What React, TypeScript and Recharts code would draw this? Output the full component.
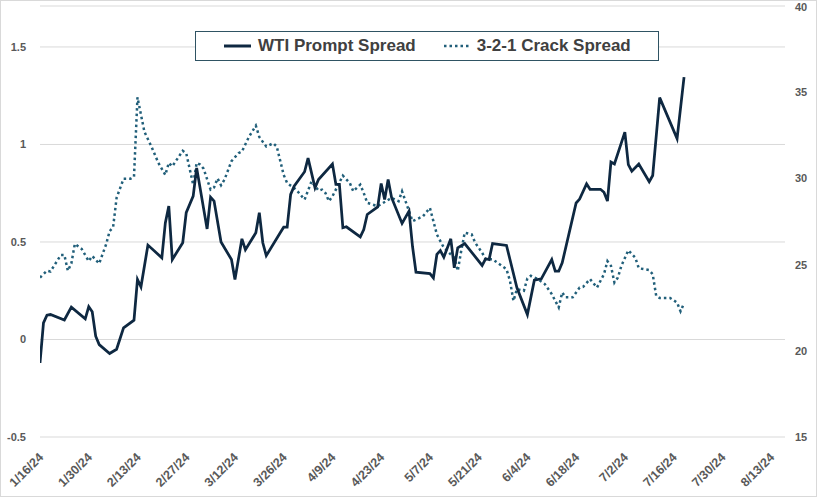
import { LineChart, Line, XAxis, YAxis, CartesianGrid, Legend } from "recharts";

// dates are M/D in 2024
const wtiDates = [
	"1/16", "1/17", "1/18", "1/19", "1/23", "1/25", "1/29", "1/30", "1/31", "2/1",
	"2/2", "2/5", "2/7", "2/9", "2/12", "2/13", "2/14", "2/16", "2/20", "2/21",
	"2/22", "2/23", "2/26", "2/27", "2/29", "3/1", "3/4", "3/5", "3/6", "3/8",
	"3/11", "3/12", "3/14", "3/15", "3/18", "3/19", "3/20", "3/21", "3/25", "3/26",
	"3/27", "3/28", "3/29", "4/1", "4/2", "4/4", "4/5", "4/9", "4/10", "4/11",
	"4/12", "4/13", "4/17", "4/18", "4/19", "4/22", "4/23", "4/24", "4/25", "4/26",
	"4/29", "5/1", "5/2", "5/3", "5/7", "5/8", "5/9", "5/10", "5/11", "5/13",
	"5/14", "5/15", "5/17", "5/22", "5/23", "5/24", "5/25", "5/29", "5/30", "6/1",
	"6/4", "6/6", "6/8", "6/11", "6/12", "6/13", "6/14", "6/18", "6/19", "6/21",
	"6/22", "6/25", "6/26", "6/27", "6/28", "6/29", "7/2", "7/3", "7/4", "7/6",
	"7/9", "7/10", "7/12", "7/17", "7/19",
];
const wtiValues = [
	-0.12, 0.085, 0.125, 0.128, 0.1, 0.166, 0.106, 0.168, 0.142, 0.017,
	-0.026, -0.072, -0.05, 0.06, 0.099, 0.308, 0.27, 0.484, 0.419, 0.598,
	0.684, 0.41, 0.496, 0.65, 0.735, 0.88, 0.567, 0.73, 0.71, 0.5,
	0.41, 0.308, 0.516, 0.46, 0.547, 0.65, 0.496, 0.43, 0.547, 0.576,
	0.576, 0.744, 0.786, 0.86, 0.93, 0.778, 0.82, 0.9, 0.795, 0.795,
	0.573, 0.578, 0.526, 0.564, 0.641, 0.68, 0.8, 0.718, 0.82, 0.727,
	0.595, 0.658, 0.478, 0.345, 0.338, 0.316, 0.436, 0.456, 0.422, 0.516,
	0.368, 0.47, 0.492, 0.38, 0.414, 0.41, 0.492, 0.482, 0.41, 0.265,
	0.128, 0.304, 0.311, 0.41, 0.35, 0.35, 0.393, 0.7, 0.72, 0.798,
	0.77, 0.77, 0.755, 0.71, 0.91, 0.9, 1.063, 0.897, 0.863, 0.9,
	0.809, 0.841, 1.24, 1.03, 1.345,
];

const crackDates = [
	"1/16", "1/18", "1/19", "1/22", "1/23", "1/24", "1/25", "1/26", "1/28", "1/30",
	"1/31", "2/2", "2/4", "2/5", "2/6", "2/7", "2/9", "2/11", "2/12", "2/13",
	"2/14", "2/15", "2/17", "2/19", "2/21", "2/22", "2/23", "2/26", "2/27", "2/29",
	"3/1", "3/2", "3/3", "3/5", "3/6", "3/7", "3/8", "3/9", "3/11", "3/13",
	"3/14", "3/16", "3/18", "3/19", "3/21", "3/23", "3/24", "3/26", "3/27", "3/29",
	"3/30", "4/1", "4/3", "4/5", "4/6", "4/7", "4/8", "4/9", "4/12", "4/14",
	"4/15", "4/17", "4/18", "4/19", "4/22", "4/26", "4/28", "4/29", "5/1", "5/2",
	"5/5", "5/7", "5/8", "5/9", "5/11", "5/14", "5/15", "5/16", "5/17", "5/19",
	"5/20", "5/22", "5/23", "5/25", "5/27", "5/29", "5/30", "5/31", "6/1", "6/3",
	"6/4", "6/5", "6/7", "6/9", "6/11", "6/12", "6/13", "6/14", "6/15", "6/17",
	"6/19", "6/20", "6/22", "6/24", "6/26", "6/27", "6/28", "6/29", "6/30", "7/1",
	"7/3", "7/5", "7/6", "7/9", "7/10", "7/11", "7/12", "7/15", "7/17", "7/18",
	"7/19",
];
const crackValues = [
	24.25, 24.64, 24.6, 25.56, 25.56, 24.64, 25.06, 26.2, 25.9, 25.2,
	25.5, 25.06, 26.18, 26.94, 27.17, 28.87, 29.98, 29.98, 30.1, 34.7,
	33.7, 32.7, 31.85, 30.9, 30.2, 30.9, 30.7, 31.6, 31.46, 29.64,
	30.9, 30.8, 30.56, 29.35, 29.48, 30.0, 29.6, 29.93, 31.0, 31.46,
	31.56, 32.4, 33.06, 32.4, 31.85, 32.04, 31.85, 30.2, 29.73, 29.44,
	29.25, 28.77, 29.83, 29.29, 29.35, 29.15, 28.68, 28.96, 30.16, 29.73,
	29.25, 29.64, 29.15, 28.58, 28.39, 28.87, 28.68, 29.25, 28.1, 27.52,
	27.8, 28.29, 27.52, 26.75, 25.98, 25.4, 24.64, 25.8, 26.85, 26.75,
	26.27, 25.69, 25.31, 25.31, 25.02, 24.73, 24.06, 22.9, 23.58, 23.48,
	24.2, 24.35, 24.16, 23.87, 23.29, 22.9, 22.52, 23.38, 23.1, 23.1,
	23.67, 23.71, 24.16, 23.67, 24.44, 25.2, 24.93, 23.96, 24.25, 24.93,
	25.83, 25.4, 24.79, 24.68, 24.44, 23.19, 23.06, 23.06, 22.8, 22.29,
	22.75,
];

const xTickLabels = [
	"1/16/24", "1/30/24", "2/13/24", "2/27/24", "3/12/24", "3/26/24", "4/9/24", "4/23/24",
	"5/7/24", "5/21/24", "6/4/24", "6/18/24", "7/2/24", "7/16/24", "7/30/24", "8/13/24",
];
const leftTicks = [-0.5, 0, 0.5, 1, 1.5];
const rightTicks = [15, 20, 25, 30, 35, 40];

const WTI_COLOR = "#0E2841";
const CRACK_COLOR = "#215F7A";
const TEXT_COLOR = "#595959";
const FONT = "'Liberation Sans Narrow', 'Arial Narrow', 'Liberation Sans', sans-serif";

const toTs = (s: string) => {
	const [m, d] = s.split("/").map(Number);
	return Date.UTC(2024, m - 1, d);
};

const wtiData = wtiDates.map((d, i) => ({ t: toTs(d), v: wtiValues[i] }));
const crackData = crackDates.map((d, i) => ({ t: toTs(d), v: crackValues[i] }));
const xTicks = xTickLabels.map(toTs);

const fmtDate = (ts: number) => {
	const dt = new Date(ts);
	return `${dt.getUTCMonth() + 1}/${dt.getUTCDate()}/24`;
};

const DateTick = ({ x, y, payload }: any) => (
	<g transform={`translate(${x + 1},${y + 10})`}>
		<text
			transform='rotate(-45)'
			textAnchor='end'
			dy='0.35em'
			fill={TEXT_COLOR}
			fontFamily={FONT}
			fontWeight='bold'
			fontSize={12.5}>
			{fmtDate(payload.value)}
		</text>
	</g>
);

const ChartLegend = () => (
	<div
		style={{
			position: "absolute",
			left: 194,
			top: 30,
			width: 464,
			height: 30,
			boxSizing: "border-box",
			border: "1px solid #2F5363",
			background: "#fff",
			display: "flex",
			alignItems: "center",
			fontFamily: FONT,
			fontWeight: "bold",
			fontSize: 17,
			color: "#404040",
		}}>
		<svg width={27} height={10} style={{ marginLeft: 28, marginRight: 7 }}>
			<line x1={0} y1={5} x2={27} y2={5} stroke={WTI_COLOR} strokeWidth={3} />
		</svg>
		<span>WTI Prompt Spread</span>
		<svg width={26} height={10} style={{ marginLeft: 28, marginRight: 7 }}>
			<line x1={0} y1={5} x2={26} y2={5} stroke={CRACK_COLOR} strokeWidth={2.5} strokeDasharray='2.5 3' />
		</svg>
		<span>3-2-1 Crack Spread</span>
	</div>
);

export default function App() {
	return (
		<div
			style={{
				position: "absolute",
				left: 0,
				top: 0,
				width: 817,
				height: 497,
				boxSizing: "border-box",
				border: "1px solid #d9d9d9",
				background: "#fff",
			}}>
			<LineChart
				width={815}
				height={495}
				margin={{ top: 5, right: 0, left: 0, bottom: 0 }}>
				<CartesianGrid yAxisId='left' vertical={false} stroke='#d9d9d9' />
				<XAxis
					dataKey='t'
					type='number'
					scale='time'
					domain={[toTs("1/16"), toTs("8/17")]}
					ticks={xTicks}
					tick={<DateTick />}
					tickLine={false}
					axisLine={false}
					height={59}
					interval={0}
					allowDataOverflow
				/>
				<YAxis
					yAxisId='left'
					domain={[-0.5, 1.71]}
					ticks={leftTicks}
					width={39}
					tickLine={false}
					axisLine={false}
					tickSize={0}
					tickMargin={14}
					tick={{ fill: TEXT_COLOR, fontSize: 11, fontWeight: "bold", fontFamily: FONT }}
				/>
				<YAxis
					yAxisId='right'
					orientation='right'
					domain={[15, 40]}
					ticks={rightTicks}
					width={31}
					tickLine={false}
					axisLine={false}
					tickSize={0}
					tickMargin={10}
					tick={{ fill: TEXT_COLOR, fontSize: 11, fontWeight: "bold", fontFamily: FONT }}
				/>
				<Legend content={<ChartLegend />} wrapperStyle={{ position: "absolute", left: 0, top: 0, width: 0, height: 0 }} />
				<Line
					yAxisId='right'
					data={crackData}
					dataKey='v'
					name='3-2-1 Crack Spread'
					type='linear'
					stroke={CRACK_COLOR}
					strokeWidth={2.5}
					strokeDasharray='2.5 3'
					dot={false}
					isAnimationActive={false}
				/>
				<Line
					yAxisId='left'
					data={wtiData}
					dataKey='v'
					name='WTI Prompt Spread'
					type='linear'
					stroke={WTI_COLOR}
					strokeWidth={2.75}
					dot={false}
					isAnimationActive={false}
				/>
			</LineChart>
		</div>
	);
}
